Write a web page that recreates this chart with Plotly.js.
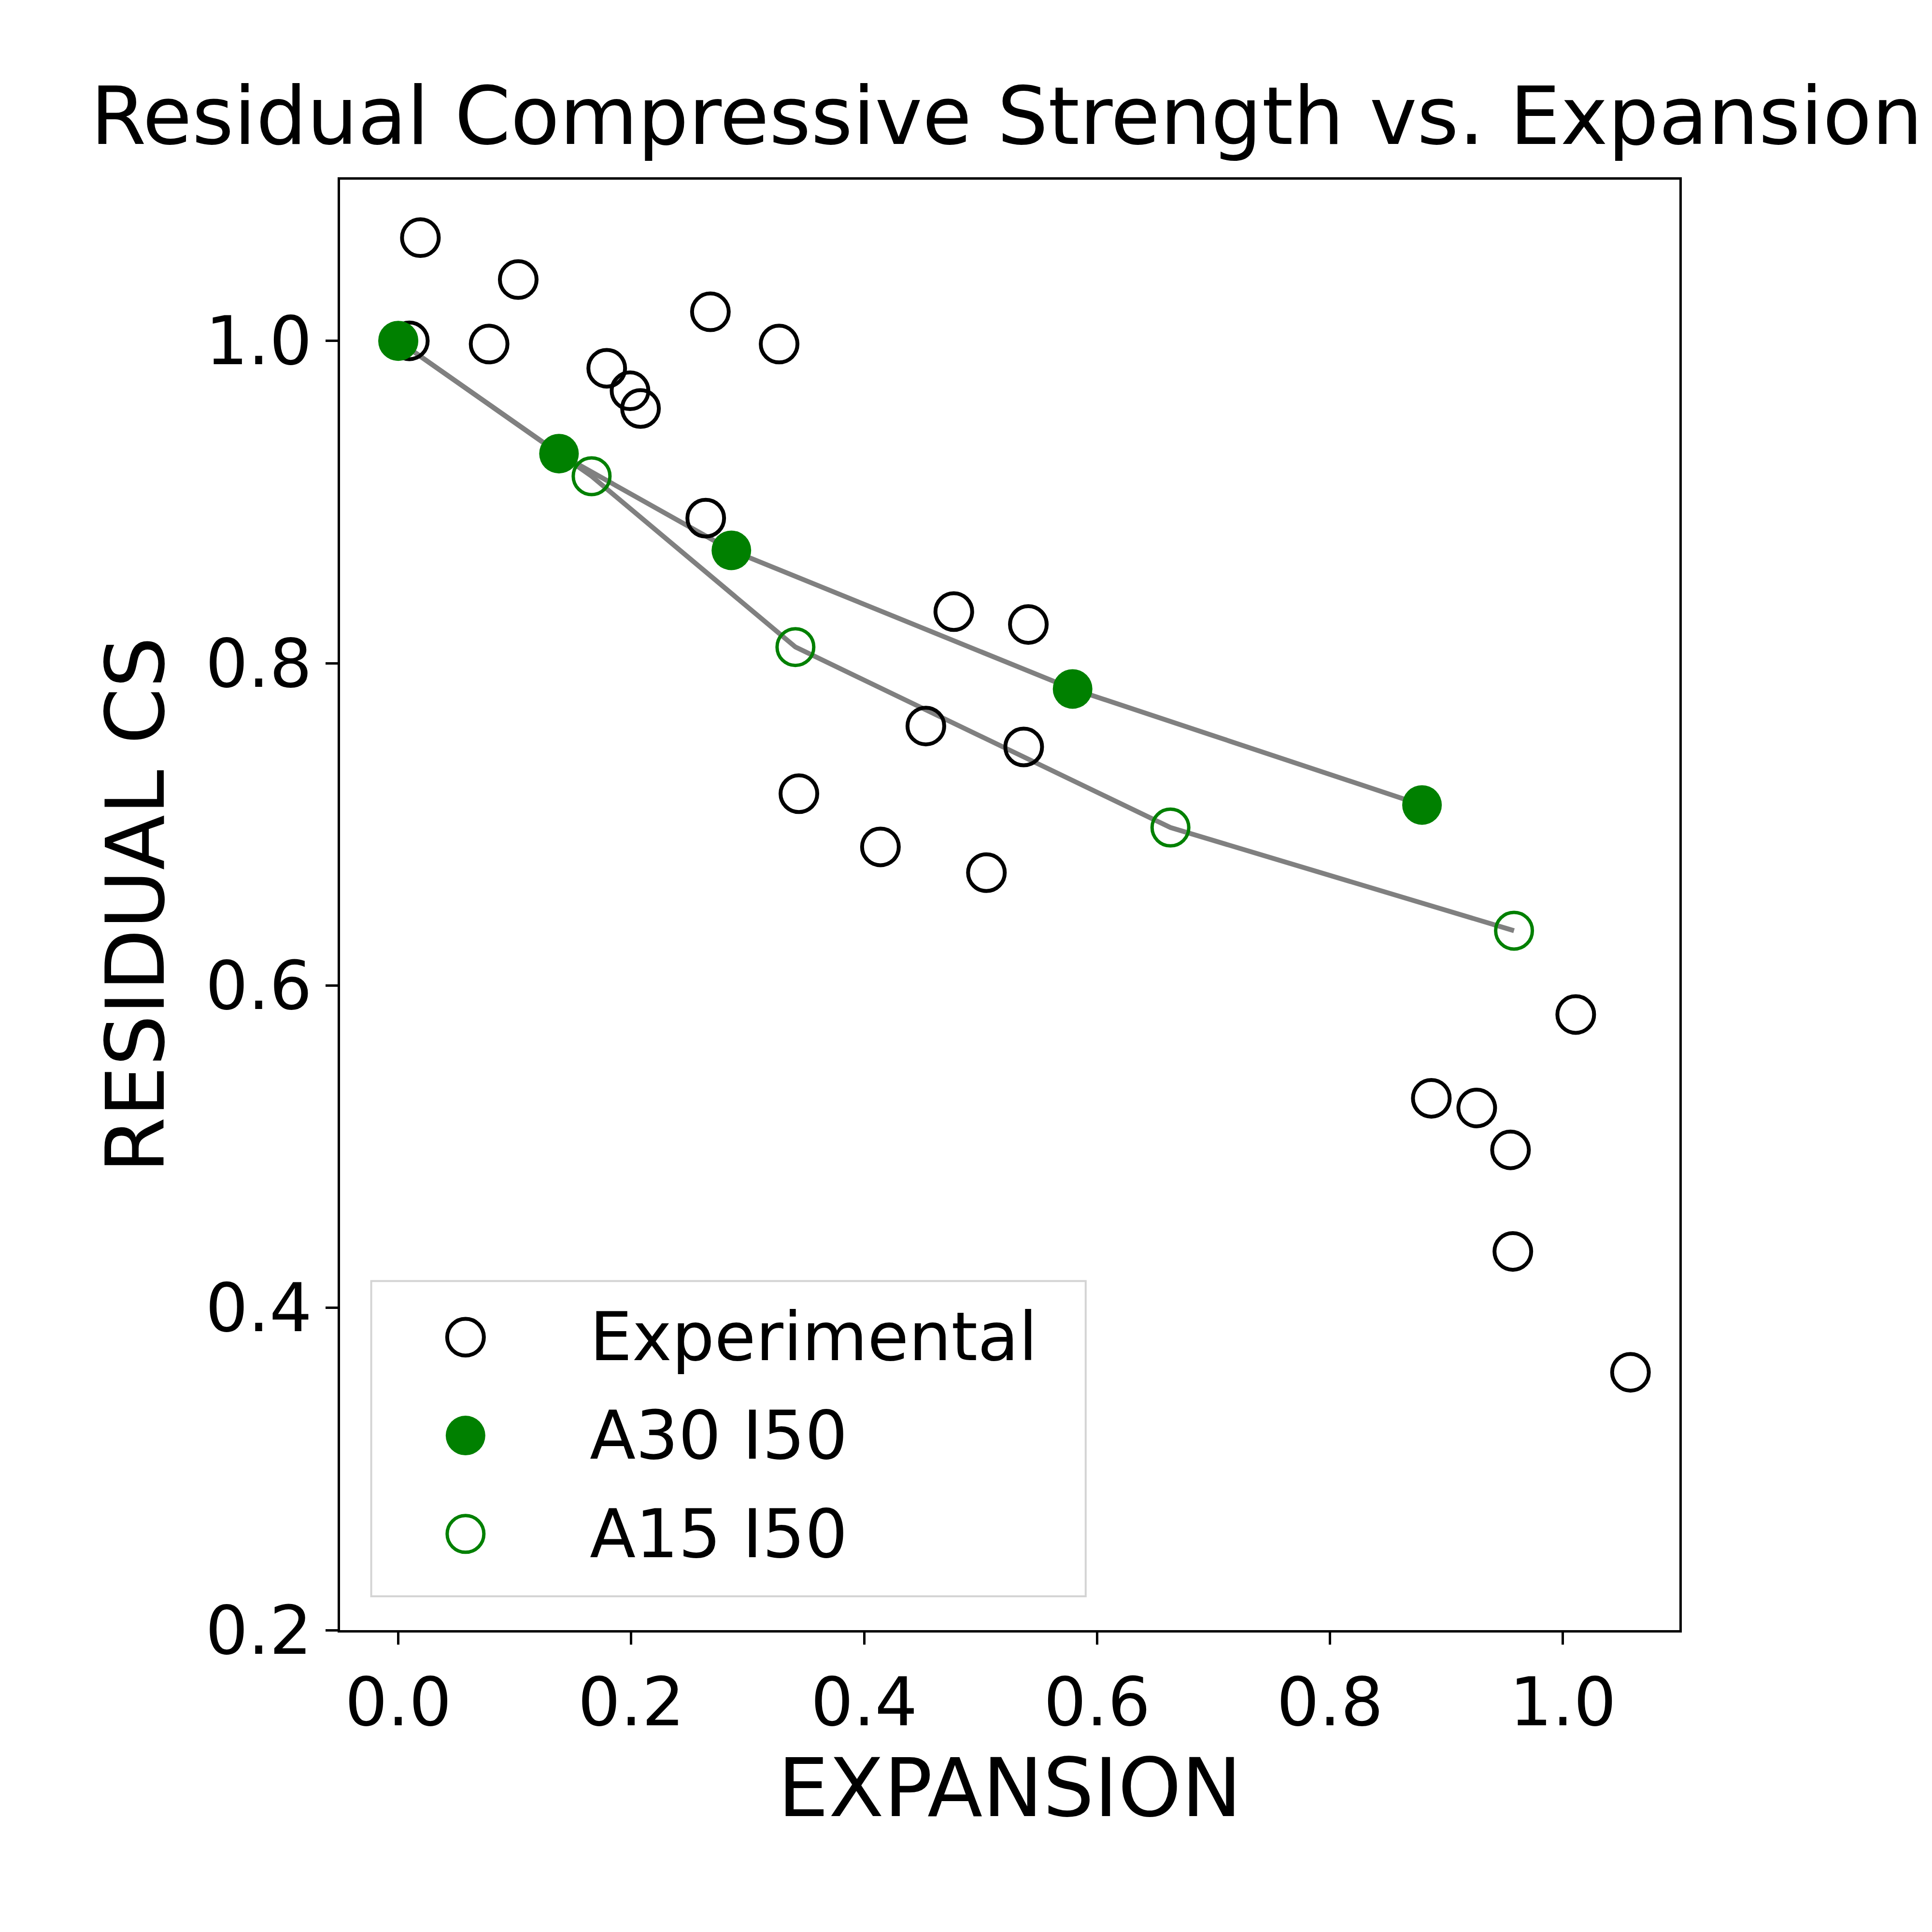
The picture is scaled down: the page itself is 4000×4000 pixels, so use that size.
<!DOCTYPE html>
<html>
<head>
<meta charset="utf-8">
<script src="https://cdn.plot.ly/plotly-3.0.1.min.js"></script>
<style>body{margin:0;background:#fff}</style>
</head>
<body>
<div id="chart" style="width:4000px;height:4000px"></div>
<script>
// experimental data points
var expX = [0.019, 0.0095, 0.103, 0.078, 0.268, 0.327, 0.179, 0.199, 0.208, 0.264,
            0.477, 0.541, 0.453, 0.537, 0.344, 0.414, 0.505, 1.011, 0.887, 0.926,
            0.955, 0.957, 1.058];
var expY = [1.064, 1.0, 1.038, 0.998, 1.018, 0.998, 0.983, 0.969, 0.958, 0.890,
            0.832, 0.824, 0.761, 0.748, 0.719, 0.686, 0.670, 0.582, 0.530, 0.524,
            0.498, 0.435, 0.360];

// model A30 I50
var a30X = [0, 0.138, 0.286, 0.579, 0.879];
var a30Y = [1.0, 0.930, 0.870, 0.784, 0.712];

// model A15 I50
var a15X = [0, 0.166, 0.341, 0.663, 0.958];
var a15Y = [1.0, 0.916, 0.810, 0.698, 0.634];

// legend entries (drawn on a small overlay axis so keys keep full marker size)
var legendNames = ['Experimental', 'A30 I50', 'A15 I50'];
var legendRows = [0.824, 0.51, 0.196];

var font = 'DejaVu Sans, sans-serif';

var expMarker = {symbol: 'circle-open', size: 76, color: 'black', line: {width: 8}};
var a30Marker = {symbol: 'circle', size: 82, color: 'green'};
var a15Marker = {symbol: 'circle-open', size: 76, color: 'green', line: {width: 7}};
var markers = [expMarker, a30Marker, a15Marker];

var data = [
    {x: a30X, y: a30Y, mode: 'lines', line: {color: 'gray', width: 10}, hoverinfo: 'skip'},
    {x: a15X, y: a15Y, mode: 'lines', line: {color: 'gray', width: 10}, hoverinfo: 'skip'},
    {x: expX, y: expY, mode: 'markers', name: 'Experimental', marker: expMarker},
    {x: a30X, y: a30Y, mode: 'markers', name: 'A30 I50', marker: a30Marker},
    {x: a15X, y: a15Y, mode: 'markers', name: 'A15 I50', marker: a15Marker}
];

var annotations = [];
for (var i = 0; i < legendNames.length; i++) {
    data.push({x: [0.131], y: [legendRows[i]], xaxis: 'x2', yaxis: 'y2', mode: 'markers', marker: markers[i], hoverinfo: 'skip'});
    annotations.push({
        xref: 'x2', yref: 'y2', x: 0.304, y: legendRows[i], text: legendNames[i],
        showarrow: false, xanchor: 'left', yanchor: 'middle',
        font: {family: font, size: 139, color: 'black'}
    });
}

var axisCommon = {
    showgrid: false, zeroline: false, showline: true, mirror: true,
    linecolor: 'black', linewidth: 5, ticks: 'outside', ticklen: 25,
    tickwidth: 5, tickcolor: 'black', tickfont: {family: font, size: 139, color: 'black'}
};

var hiddenAxis = {range: [0, 1], visible: false, fixedrange: true};

var layout = {
    width: 4000, height: 4000,
    showlegend: false,
    paper_bgcolor: 'white', plot_bgcolor: 'white',
    margin: {l: 704, r: 523, t: 372, b: 625},
    font: {family: font, color: 'black'},
    title: {text: 'Residual Compressive Strength vs. Expansion', font: {family: font, size: 166, color: 'black'},
            x: 0.521, xanchor: 'center', y: 0.94, yanchor: 'middle'},
    xaxis: Object.assign({}, axisCommon, {
        range: [-0.05, 1.1], tickvals: [0, 0.2, 0.4, 0.6, 0.8, 1.0], ticktext: ['0.0', '0.2', '0.4', '0.6', '0.8', '1.0'],
        title: {text: 'EXPANSION', font: {family: font, size: 167, color: 'black'}, standoff: 30}
    }),
    yaxis: Object.assign({}, axisCommon, {
        range: [0.2, 1.1], tickvals: [0.2, 0.4, 0.6, 0.8, 1.0], ticktext: ['0.2', '0.4', '0.6', '0.8', '1.0'],
        title: {text: 'RESIDUAL CS', font: {family: font, size: 167, color: 'black'}, standoff: 30}
    }),
    xaxis2: Object.assign({}, hiddenAxis, {domain: [0.024, 0.556], anchor: 'y2'}),
    yaxis2: Object.assign({}, hiddenAxis, {domain: [0.024, 0.240], anchor: 'x2'}),
    shapes: [{
        type: 'rect', xref: 'paper', yref: 'paper', x0: 0.024, x1: 0.556, y0: 0.024, y1: 0.240,
        line: {color: '#d4d4d4', width: 8}, fillcolor: 'white', layer: 'below'
    }],
    annotations: annotations
};

Plotly.newPlot('chart', data, layout, {staticPlot: true});
</script>
</body>
</html>
